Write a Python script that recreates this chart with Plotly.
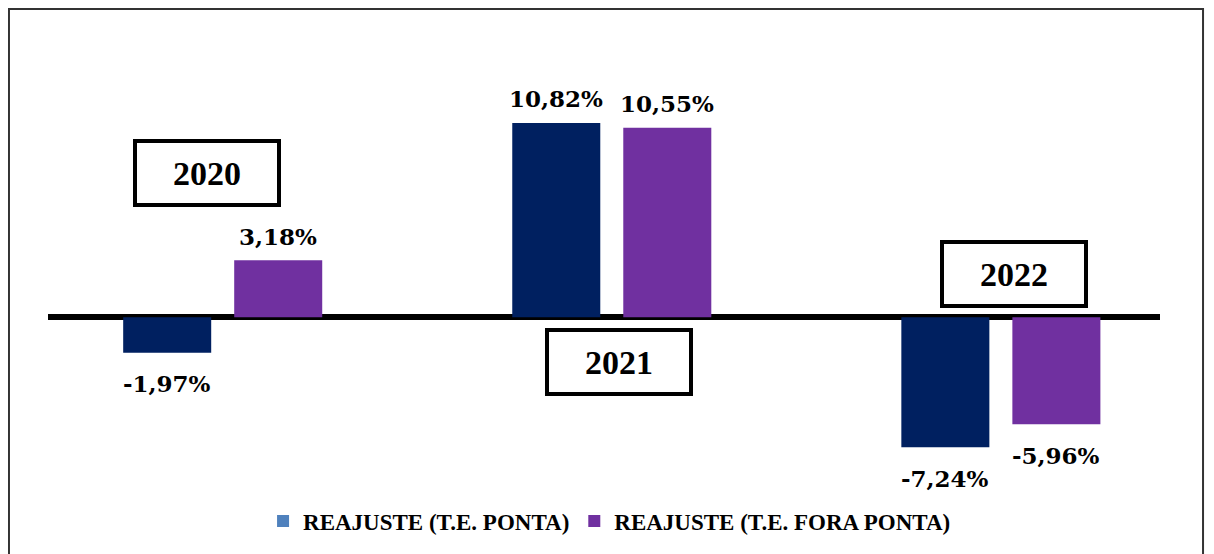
import plotly.graph_objects as go

categories = ["2020", "2021", "2022"]
ponta = [-1.97, 10.82, -7.24]
fora_ponta = [3.18, 10.55, -5.96]
series_names = ["REAJUSTE (T.E. PONTA)", "REAJUSTE (T.E. FORA PONTA)"]
bar_colors = ["#002060", "#7030A0"]
legend_colors = ["#4F81BD", "#7030A0"]
year_boxes = ["2020", "2021", "2022"]
box_x = [-0.04, 1.018, 2.033]
box_y = [8.06, -2.47, 2.42]

BARGAP = 0.4293
BARGROUPGAP = 0.2072

def fmt(v):
    return f"{v:.2f}".replace(".", ",") + "%"

fig = go.Figure()
label_font = dict(family="DejaVu Serif", size=23, color="black", weight="bold")
for name, vals, col in zip(series_names, [ponta, fora_ponta], bar_colors):
    fig.add_trace(go.Bar(
        x=categories, y=vals, name=name, marker=dict(color=col, line=dict(width=0)),
        showlegend=False,
    ))
for name, col in zip(series_names, legend_colors):
    fig.add_trace(go.Scatter(x=[None], y=[None], name=name, mode="markers",
                             marker=dict(color=col, symbol="square", size=14,
                                         line=dict(width=0)),
                             showlegend=True))

# value labels placed at the centre of each grouped bar
slot = (1 - BARGAP) / 2
for si, vals in enumerate([ponta, fora_ponta]):
    for ci, v in enumerate(vals):
        fig.add_annotation(x=ci + (si - 0.5) * slot, y=v, xref="x", yref="y",
                           text=fmt(v), showarrow=False, font=label_font,
                           yanchor="middle", yshift=24 if v >= 0 else -31)

for t, bx, by in zip(year_boxes, box_x, box_y):
    fig.add_annotation(x=bx, y=by, xref="x", yref="y", text="<b>" + t + "</b>",
                       showarrow=False, font=dict(family="Liberation Serif", size=34, color="black"),
                       bordercolor="black", borderwidth=4, borderpad=0,
                       width=140, height=60, bgcolor="white")

fig.add_shape(type="rect", xref="paper", yref="paper",
              x0=-0.0351, x1=1.0387, y0=-0.2, y1=1.0689,
              line=dict(color="#333333", width=2), layer="below")

fig.update_layout(
    width=1206, height=546,
    margin=dict(l=40, r=54, t=32, b=64),
    paper_bgcolor="white", plot_bgcolor="white",
    barmode="group", bargap=BARGAP, bargroupgap=BARGROUPGAP,
    legend=dict(orientation="h", x=0.505, xanchor="center", y=-0.069, yanchor="middle",
                font=dict(family="Liberation Serif", size=23, color="black", weight="bold"),
                itemsizing="constant", traceorder="normal"),
    xaxis=dict(type="category", range=[-0.449, 2.409], showticklabels=False,
               showgrid=False, zeroline=False, showline=False),
    yaxis=dict(range=[-9.56, 15.44], showticklabels=False, showgrid=False,
               zeroline=True, zerolinecolor="black", zerolinewidth=6,
               layer="above traces"),
)
fig.write_html("out.html")
